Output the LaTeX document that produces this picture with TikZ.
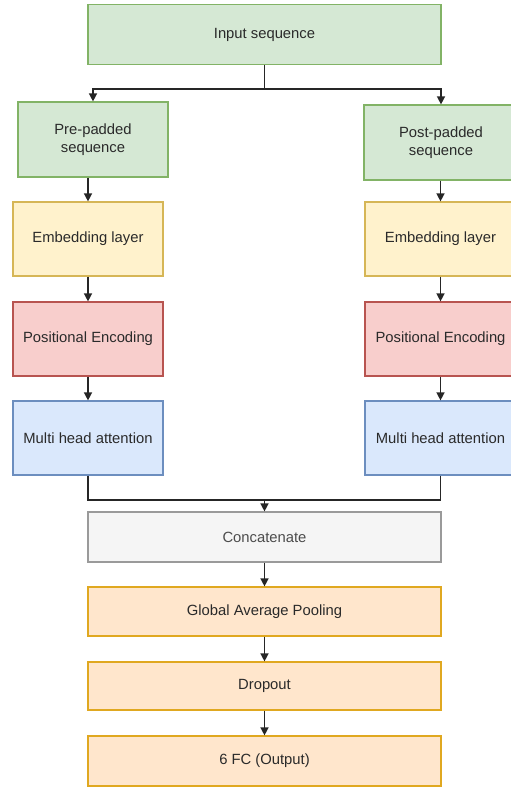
\documentclass[tikz,border=0pt]{standalone}
\usepackage{fontspec}
\setmainfont{Liberation Sans}
\usetikzlibrary{arrows.meta}
\definecolor{gfill}{HTML}{D5E8D4}\definecolor{gdraw}{HTML}{82B366}
\definecolor{yfill}{HTML}{FFF2CC}\definecolor{ydraw}{HTML}{D6B656}
\definecolor{rfill}{HTML}{F8CECC}\definecolor{rdraw}{HTML}{B85450}
\definecolor{bfill}{HTML}{DAE8FC}\definecolor{bdraw}{HTML}{6C8EBF}
\definecolor{cfill}{HTML}{F5F5F5}\definecolor{cdraw}{HTML}{9A9A9A}
\definecolor{ofill}{HTML}{FFE6CC}\definecolor{odraw}{HTML}{E0A820}
\definecolor{txt}{HTML}{2A2A2A}
\tikzset{
  box/.style={draw, line width=1.2pt, inner sep=0pt, align=center, text=txt,
    font=\fontsize{14.8}{18}\selectfont},
  green/.style={box, fill=gfill, draw=gdraw},
  yellow/.style={box, fill=yfill, draw=ydraw},
  red/.style={box, fill=rfill, draw=rdraw},
  blue/.style={box, fill=bfill, draw=bdraw},
  grey/.style={box, fill=cfill, draw=cdraw, text=black!70},
  orange/.style={box, fill=ofill, draw=odraw},
  arr/.style={draw=black!85, line width=1.4pt, -{Triangle[length=8pt,width=8pt]}},
  ln/.style={draw=black!85, line width=1.4pt}
}
\begin{document}
\begin{tikzpicture}[x=1pt,y=-1pt]
\useasboundingbox (0,0) rectangle (511,788);
\clip (0,0) rectangle (511,788);
\node[green, minimum width=353pt, minimum height=60pt] (in) at (264.5,34.5) {Input sequence};
\node[green, minimum width=150pt, minimum height=75pt] (pre) at (93,139.5) {Pre-padded\\sequence};
\node[green, minimum width=154pt, minimum height=75pt] (post) at (441,142.5) {Post-padded\\sequence};
\node[yellow, minimum width=150pt, minimum height=74pt] (emb1) at (88,239) {Embedding layer};
\node[yellow, minimum width=151pt, minimum height=74pt] (emb2) at (440.5,239) {Embedding layer};
\node[red, minimum width=150pt, minimum height=74pt] (pe1) at (88,339) {Positional Encoding};
\node[red, minimum width=151pt, minimum height=74pt] (pe2) at (440.5,339) {Positional Encoding};
\node[blue, minimum width=150pt, minimum height=74pt] (mh1) at (88,438) {Multi head attention};
\node[blue, minimum width=151pt, minimum height=74pt] (mh2) at (440.5,438) {Multi head attention};
\node[grey, minimum width=353pt, minimum height=50pt] (cat) at (264.5,537) {Concatenate};
\node[orange, minimum width=353pt, minimum height=49pt] (gap) at (264.5,611.5) {Global Average Pooling};
\node[orange, minimum width=353pt, minimum height=48pt] (drop) at (264.5,686) {Dropout};
\node[orange, minimum width=353pt, minimum height=50pt] (fc) at (264.5,761) {6 FC (Output)};
\coordinate (split) at (264.5,89);
\coordinate (merge) at (264.5,500);
\draw[ln] (in.south) -- (split);
\draw[arr] (split) -| (pre.north);
\draw[arr] (split) -| (post.north);
\draw[arr] (pre.south -| emb1.north) -- (emb1.north);
\draw[arr] (post.south -| emb2.north) -- (emb2.north);
\draw[arr] (emb1) -- (pe1);
\draw[arr] (emb2) -- (pe2);
\draw[arr] (pe1) -- (mh1);
\draw[arr] (pe2) -- (mh2);
\draw[ln] (mh1.south) |- (merge);
\draw[ln] (mh2.south) |- (merge);
\draw[arr] (merge) -- (cat.north);
\draw[arr] (cat) -- (gap);
\draw[arr] (gap) -- (drop);
\draw[arr] (drop) -- (fc);
\end{tikzpicture}
\end{document}
